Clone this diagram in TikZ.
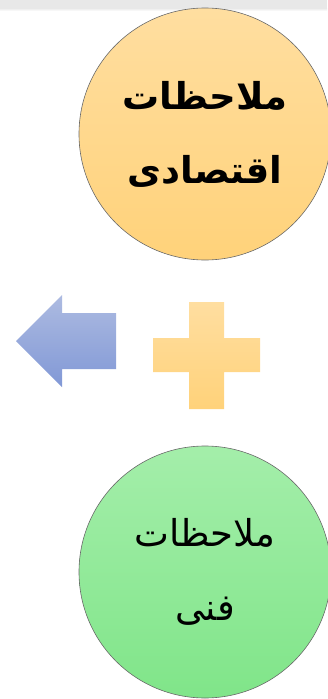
\documentclass[tikz,border=0pt]{standalone}
\usepackage{fontspec}
\usetikzlibrary{positioning}
\newfontfamily\arabicfont[Script=Arabic]{DejaVu Sans}
\TeXXeTstate=1
\definecolor{yl1}{RGB}{255,222,160}
\definecolor{yl2}{RGB}{255,210,122}
\definecolor{gr1}{RGB}{164,238,170}
\definecolor{gr2}{RGB}{128,229,137}
\definecolor{bl1}{RGB}{173,187,225}
\definecolor{bl2}{RGB}{129,152,214}
\definecolor{rim}{RGB}{105,105,105}

\begin{document}
\begin{tikzpicture}[x=1pt,y=-1pt,
    bubble/.style={circle,draw=rim,line width=0.6pt,minimum size=252pt,inner sep=0pt,align=center},
    lbl/.style={font=\arabicfont\fontsize{37}{74}\selectfont},
    boldlbl/.style={font=\arabicfont\bfseries\fontsize{37}{74}\selectfont}]
  \useasboundingbox (0,0) rectangle (327,699);
  % grey strip along the top edge
  \fill[black!9] (0,0) rectangle (327,8);
  \shade[top color=black!9,bottom color=white] (0,8) rectangle (327,11);
  % the two circles
  \node[bubble,top color=yl1,bottom color=yl2,boldlbl] (econ) at (205,134)
    {\beginR ملاحظات\endR\\\beginR اقتصادی\endR};
  \node[bubble,top color=gr1,bottom color=gr2,lbl] (tech) at (205,572)
    {\beginR ملاحظات\endR\\\beginR فنی\endR};
  % arrow and plus sign
  \shade[top color=bl1,bottom color=bl2] (16,341) -- (62,295) -- (62,313) -- (116,313)
    -- (116,369) -- (62,369) -- (62,387) -- cycle;
  \shade[top color=yl1,bottom color=yl2] (189,302) -- (224,302) -- (224,338) -- (260,338)
    -- (260,372) -- (224,372) -- (224,409) -- (189,409) -- (189,372) -- (153,372)
    -- (153,338) -- (189,338) -- cycle;
\end{tikzpicture}
\end{document}
